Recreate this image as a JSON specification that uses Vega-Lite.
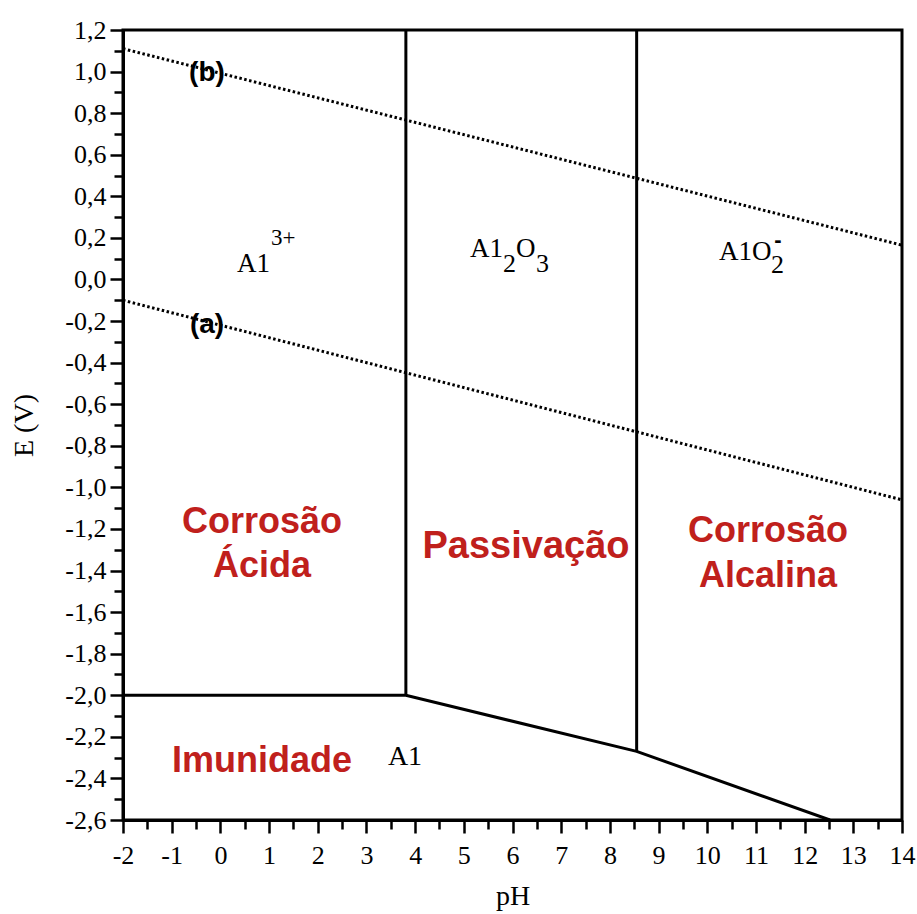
{
  "$schema": "https://vega.github.io/schema/vega-lite/v6.json",
  "width": 779,
  "height": 790,
  "autosize": {"type": "none"},
  "padding": {"left": 123, "top": 30, "right": 15, "bottom": 94},
  "background": "white",
  "config": {
    "view": {"stroke": "black", "strokeWidth": 3},
    "axis": {
      "grid": false,
      "domainColor": "black",
      "domainWidth": 3,
      "tickColor": "black",
      "tickWidth": 2.5,
      "labelFont": "Liberation Serif",
      "labelFontSize": 26,
      "labelColor": "black",
      "titleFont": "Liberation Serif",
      "titleFontSize": 28,
      "titleFontWeight": "normal",
      "titleColor": "black"
    }
  },
  "data": {
    "values": [
      {"g": "solid", "s": "v1", "pH": 3.81, "E": -2.0},
      {"g": "solid", "s": "v1", "pH": 3.81, "E": 1.2},
      {"g": "solid", "s": "v2", "pH": 8.55, "E": -2.27},
      {"g": "solid", "s": "v2", "pH": 8.55, "E": 1.2},
      {"g": "solid", "s": "bottom", "pH": -2, "E": -2.0},
      {"g": "solid", "s": "bottom", "pH": 3.81, "E": -2.0},
      {"g": "solid", "s": "bottom", "pH": 8.55, "E": -2.27},
      {"g": "solid", "s": "bottom", "pH": 12.52, "E": -2.6},
      {"g": "dot", "s": "a", "pH": -2, "E": -0.1},
      {"g": "dot", "s": "a", "pH": 14, "E": -1.06},
      {"g": "dot", "s": "b", "pH": -2, "E": 1.11},
      {"g": "dot", "s": "b", "pH": 14, "E": 0.165},
      {"g": "red", "t": "Corrosão", "pH": 0.855, "E": -1.219},
      {"g": "red", "t": "Ácida", "pH": 0.855, "E": -1.431},
      {"g": "redbig", "t": "Passivação", "pH": 6.277, "E": -1.34},
      {"g": "red", "t": "Corrosão", "pH": 11.247, "E": -1.263},
      {"g": "red", "t": "Alcalina", "pH": 11.247, "E": -1.479},
      {"g": "red", "t": "Imunidade", "pH": 0.855, "E": -2.369},
      {"g": "lab", "t": "(b)", "pH": -0.275, "E": 0.955},
      {"g": "lab", "t": "(a)", "pH": -0.275, "E": -0.258},
      {"g": "main", "t": "A1", "pH": 0.341, "E": 0.036},
      {"g": "sup", "t": "3+", "pH": 1.04, "E": 0.166},
      {"g": "main", "t": "A1", "pH": 5.127, "E": 0.108},
      {"g": "sub", "t": "2", "pH": 5.805, "E": 0.036},
      {"g": "main", "t": "O", "pH": 6.072, "E": 0.108},
      {"g": "sub", "t": "3", "pH": 6.483, "E": 0.036},
      {"g": "main", "t": "A1O", "pH": 10.241, "E": 0.094},
      {"g": "sub", "t": "2", "pH": 11.309, "E": 0.031},
      {"g": "minus", "t": "-", "pH": 11.453, "E": 0.156},
      {"g": "center", "t": "A1", "pH": 3.792, "E": -2.335}
    ]
  },
  "encoding": {
    "x": {
      "field": "pH",
      "type": "quantitative",
      "title": "pH",
      "scale": {"domain": [-2, 14], "nice": false, "zero": false},
      "axis": {
        "values": [-2, -1.5, -1, -0.5, 0, 0.5, 1, 1.5, 2, 2.5, 3, 3.5, 4, 4.5, 5, 5.5, 6, 6.5, 7, 7.5, 8, 8.5, 9, 9.5, 10, 10.5, 11, 11.5, 12, 12.5, 13, 13.5, 14],
        "labelExpr": "datum.value % 1 == 0 ? replace(format(datum.value, 'd'), '\u2212', '-') : ''",
        "tickSize": {"condition": {"test": "datum.value % 1 == 0", "value": 13}, "value": 9},
        "labelPadding": 9,
        "labelFlush": false,
        "labelOverlap": false,
        "titlePadding": 14
      }
    },
    "y": {
      "field": "E",
      "type": "quantitative",
      "title": "E (V)",
      "scale": {"domain": [-2.6, 1.2], "nice": false, "zero": false},
      "axis": {
        "values": [-2.6, -2.5, -2.4, -2.3, -2.2, -2.1, -2.0, -1.9, -1.8, -1.7, -1.6, -1.5, -1.4, -1.3, -1.2, -1.1, -1.0, -0.9, -0.8, -0.7, -0.6, -0.5, -0.4, -0.3, -0.2, -0.1, 0, 0.1, 0.2, 0.3, 0.4, 0.5, 0.6, 0.7, 0.8, 0.9, 1.0, 1.1, 1.2],
        "labelExpr": "abs(round(datum.value * 10)) % 2 == 0 ? replace(replace(format(datum.value, '.1f'), '.', ','), '\u2212', '-') : ''",
        "tickSize": {"condition": {"test": "abs(round(datum.value * 10)) % 2 == 0", "value": 13}, "value": 9},
        "labelPadding": 4,
        "labelFlush": false,
        "labelOverlap": false,
        "titlePadding": 26
      }
    }
  },
  "layer": [
    {
      "transform": [{"filter": "datum.g == 'solid'"}],
      "mark": {"type": "line", "color": "black", "strokeWidth": 3, "clip": true},
      "encoding": {"detail": {"field": "s"}}
    },
    {
      "transform": [{"filter": "datum.g == 'dot'"}],
      "mark": {"type": "line", "color": "black", "strokeWidth": 3, "strokeDash": [2.5, 2.5], "clip": true},
      "encoding": {"detail": {"field": "s"}}
    },
    {
      "transform": [{"filter": "datum.g == 'red'"}],
      "mark": {"type": "text", "font": "Liberation Sans", "fontWeight": "bold", "fontSize": 36, "color": "#c0201c", "align": "center", "baseline": "alphabetic"},
      "encoding": {"text": {"field": "t"}}
    },
    {
      "transform": [{"filter": "datum.g == 'redbig'"}],
      "mark": {"type": "text", "font": "Liberation Sans", "fontWeight": "bold", "fontSize": 38, "color": "#c0201c", "align": "center", "baseline": "alphabetic"},
      "encoding": {"text": {"field": "t"}}
    },
    {
      "transform": [{"filter": "datum.g == 'lab'"}],
      "mark": {"type": "text", "font": "Liberation Sans", "fontWeight": "bold", "fontSize": 28, "color": "black", "align": "center", "baseline": "alphabetic"},
      "encoding": {"text": {"field": "t"}}
    },
    {
      "transform": [{"filter": "datum.g == 'main'"}],
      "mark": {"type": "text", "font": "Liberation Serif", "fontSize": 27, "color": "black", "align": "left", "baseline": "alphabetic"},
      "encoding": {"text": {"field": "t"}}
    },
    {
      "transform": [{"filter": "datum.g == 'center'"}],
      "mark": {"type": "text", "font": "Liberation Serif", "fontSize": 28, "color": "black", "align": "center", "baseline": "alphabetic"},
      "encoding": {"text": {"field": "t"}}
    },
    {
      "transform": [{"filter": "datum.g == 'sub'"}],
      "mark": {"type": "text", "font": "Liberation Serif", "fontSize": 26, "color": "black", "align": "left", "baseline": "alphabetic"},
      "encoding": {"text": {"field": "t"}}
    },
    {
      "transform": [{"filter": "datum.g == 'sup'"}],
      "mark": {"type": "text", "font": "Liberation Serif", "fontSize": 23, "color": "black", "align": "left", "baseline": "alphabetic"},
      "encoding": {"text": {"field": "t"}}
    },
    {
      "transform": [{"filter": "datum.g == 'minus'"}],
      "mark": {"type": "text", "font": "Liberation Sans", "fontWeight": "bold", "fontSize": 22, "color": "black", "align": "center", "baseline": "alphabetic"},
      "encoding": {"text": {"field": "t"}}
    }
  ]
}
